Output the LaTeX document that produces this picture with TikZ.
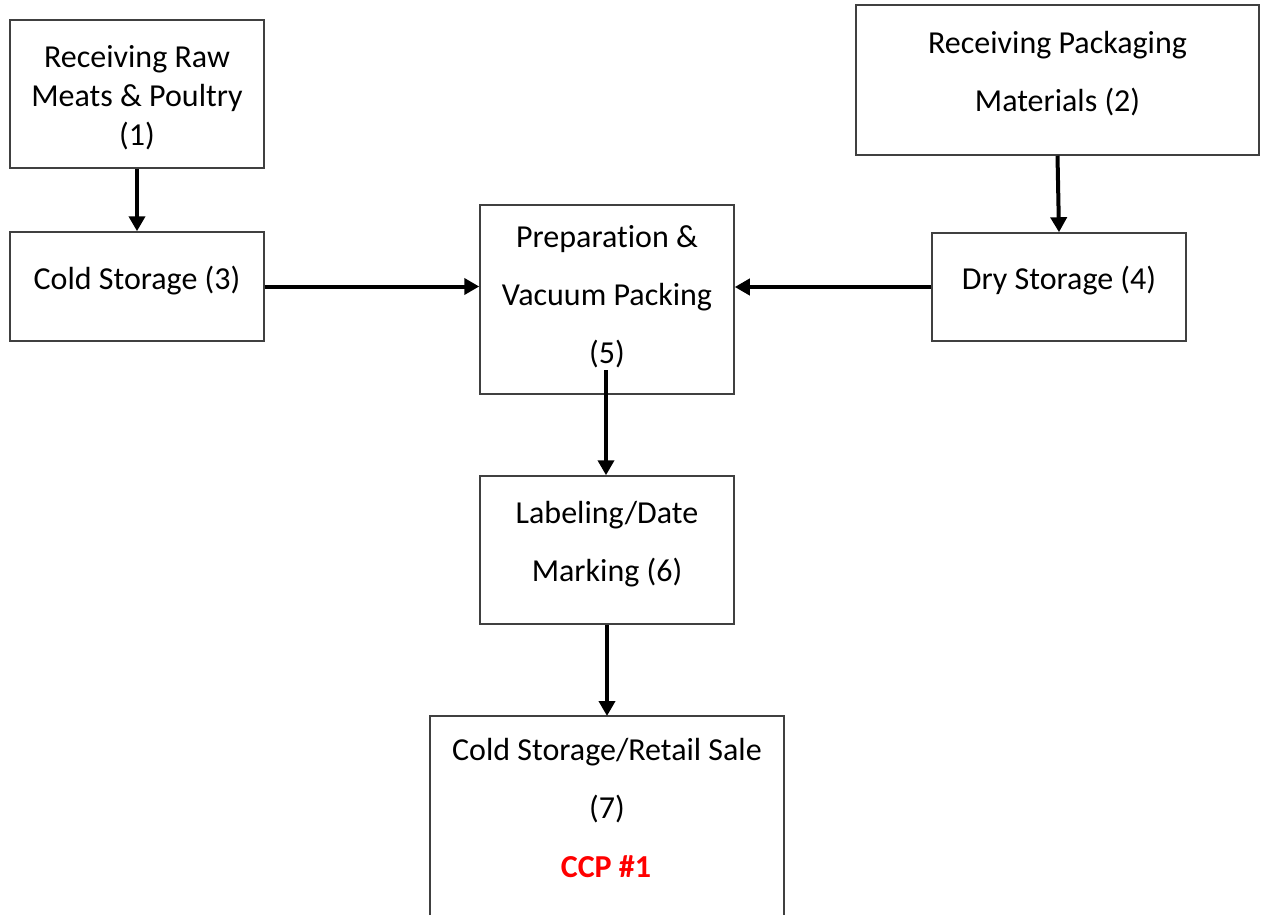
\documentclass[tikz,border=0pt]{standalone}
\usepackage{fontspec}
\setmainfont[Ligatures=NoCommon]{Carlito}
\usetikzlibrary{arrows.meta}

\tikzset{
	stepbox/.style={draw=black!75, line width=0.75pt, inner sep=0pt},
	lbl/.style={align=center, inner sep=0pt, font=\fontsize{16}{29}\selectfont},
	tight/.style={lbl, font=\fontsize{16}{19.5}\selectfont},
	flow/.style={line width=2pt, -{Triangle[length=7.5pt,width=8pt]}}
}

\begin{document}
\begin{tikzpicture}[x=0.5pt, y=-0.5pt]
	\useasboundingbox (0,0) rectangle (1262,915);

	% boxes
	\node[stepbox, minimum width=127pt, minimum height=74pt] (raw) at (137,94) {};
	\node[stepbox, minimum width=201.5pt, minimum height=75pt] (pkg) at (1057.5,80) {};
	\node[stepbox, minimum width=127pt, minimum height=54.5pt] (cold) at (137,286.5) {};
	\node[stepbox, minimum width=127pt, minimum height=54pt] (dry) at (1059,287) {};
	\node[stepbox, minimum width=127pt, minimum height=94.5pt] (prep) at (607,299.5) {};
	\node[stepbox, minimum width=127pt, minimum height=74pt] (label) at (607,550) {};
	\coordinate (saleNW) at (430,716);
	\coordinate (saleNE) at (784,716);
	\draw[draw=black!75, line width=0.75pt] (430,915) -- (saleNW) -- (saleNE) -- (784,915);
	\coordinate (sale) at (607,716);

	% texts
	\node[tight] (rawT) at (137,98) {Receiving Raw\\Meats \& Poultry\\(1)};
	\node[lbl] (pkgT) at (1057.5,74) {Receiving Packaging\\Materials (2)};
	\node[lbl] (coldT) at (137,281) {Cold Storage (3)};
	\node[lbl] (dryT) at (1059,281) {Dry Storage (4)};
	\node[lbl] (prepT) at (607,297) {Preparation \&\\Vacuum Packing\\(5)};
	\node[lbl] (labelT) at (607,544) {Labeling/Date\\Marking (6)};
	\node[lbl] (saleT) at (607,781) {Cold Storage/Retail Sale\\(7)};
	\node[lbl, font=\fontsize{16}{29}\selectfont\bfseries, text=red] (ccp) at (606,867) {CCP \#1};

	% arrows
	\coordinate (prepOut) at (606,370);
	\draw[flow] (raw.south) -- (cold.north);
	\draw[flow] (pkg.south) -- (dry.north);
	\draw[flow] (cold.east) -- (cold.east -| prep.west);
	\draw[flow] (dry.west) -- (dry.west -| prep.east);
	\draw[flow] (prepOut) -- (prepOut |- label.north);
	\draw[flow] (label.south) -- (sale);
\end{tikzpicture}
\end{document}
